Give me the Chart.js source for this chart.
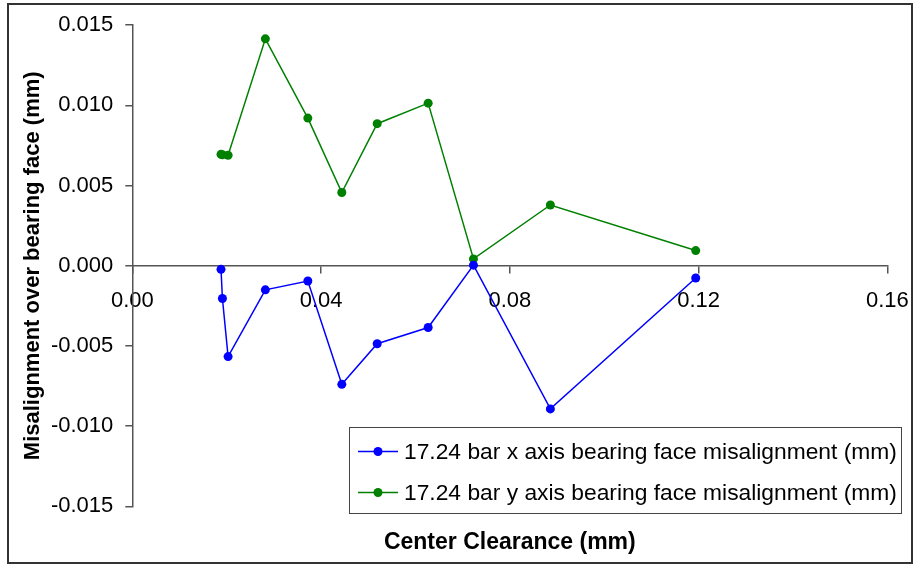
<!DOCTYPE html>
<html>
<head>
<meta charset="utf-8">
<script src="https://cdn.jsdelivr.net/npm/chart.js@4/dist/chart.umd.min.js"></script>
<style>
  html, body { margin: 0; padding: 0; background: #fff; }
  #wrap { width: 915px; height: 565px; position: relative; }
</style>
</head>
<body>
<div id="wrap"><canvas id="c" width="915" height="565"></canvas></div>
<script>
// ---- Data ----
const clearance = [0.0188, 0.0191, 0.0203, 0.0282, 0.0372, 0.0444, 0.0519, 0.0627, 0.0723, 0.0886, 0.1194];
const xMisalign = [-0.00022, -0.00204, -0.00566, -0.00150, -0.00095, -0.00739, -0.00486, -0.00385, 0.00004, -0.00892, -0.00076];
const yMisalign = [0.00695, 0.00692, 0.00689, 0.01415, 0.00921, 0.00457, 0.00886, 0.01014, 0.00043, 0.00379, 0.00095];
const seriesLabels = [
  '17.24 bar x axis bearing face misalignment (mm)',
  '17.24 bar y axis bearing face misalignment (mm)'
];
const xTitle = 'Center Clearance (mm)';
const yTitle = 'Misalignment over bearing face (mm)';
const xTicks = [0, 0.04, 0.08, 0.12, 0.16];
const yTicks = [-0.015, -0.010, -0.005, 0.000, 0.005, 0.010, 0.015];

const toPts = (xs, ys) => xs.map((x, i) => ({ x: x, y: ys[i] }));

const FONT = "'Liberation Sans', Arial, sans-serif";

const frame = {
  id: 'frame',
  afterDraw(chart) {
    const ctx = chart.ctx;
    ctx.save();
    ctx.strokeStyle = '#333';
    ctx.lineWidth = 2;
    ctx.strokeRect(8, 4, 904, 559);
    ctx.restore();
  }
};

const boxLegend = {
  id: 'boxLegend',
  afterDraw(chart) {
    const ctx = chart.ctx;
    const L = 349.5, T = 427.5, W = 552, H = 86;
    ctx.save();
    ctx.fillStyle = '#fff';
    ctx.fillRect(L, T, W, H);
    ctx.strokeStyle = '#444';
    ctx.lineWidth = 1;
    ctx.strokeRect(L, T, W, H);
    const rows = [451.5, 492.5];
    chart.data.datasets.forEach((ds, i) => {
      const y = rows[i];
      ctx.strokeStyle = ds.borderColor;
      ctx.lineWidth = 1.5;
      ctx.beginPath();
      ctx.moveTo(358, y);
      ctx.lineTo(398, y);
      ctx.stroke();
      ctx.fillStyle = ds.backgroundColor;
      ctx.beginPath();
      ctx.arc(378, y, 4.5, 0, Math.PI * 2);
      ctx.fill();
      ctx.fillStyle = '#000';
      ctx.font = '22.8px ' + FONT;
      ctx.textBaseline = 'middle';
      ctx.textAlign = 'left';
      ctx.fillText(ds.label, 404, y + 1);
    });
    ctx.restore();
  }
};

new Chart(document.getElementById('c'), {
  type: 'line',
  data: {
    datasets: [
      {
        label: seriesLabels[0],
        data: toPts(clearance, xMisalign),
        borderColor: '#0000FF',
        backgroundColor: '#0000FF',
        borderWidth: 1.5,
        pointRadius: 4.5,
        pointBorderWidth: 0,
        tension: 0
      },
      {
        label: seriesLabels[1],
        data: toPts(clearance, yMisalign),
        borderColor: '#008000',
        backgroundColor: '#008000',
        borderWidth: 1.5,
        pointRadius: 4.5,
        pointBorderWidth: 0,
        tension: 0
      }
    ]
  },
  options: {
    responsive: false,
    animation: false,
    devicePixelRatio: 1,
    layout: { padding: { left: 12, top: 20, right: 27.7, bottom: 6 } },
    plugins: {
      legend: { display: false },
      tooltip: { enabled: false },
      title: {
        display: true,
        position: 'bottom',
        fullSize: false,
        text: xTitle,
        color: '#000',
        font: { family: FONT, size: 23, weight: 'bold' },
        padding: { top: 22, bottom: 3 }
      }
    },
    scales: {
      x: {
        type: 'linear',
        position: { y: 0 },
        min: 0,
        max: 0.16,
        afterBuildTicks: s => { s.ticks = xTicks.map(v => ({ value: v })); },
        afterFit: s => { s.paddingLeft = 0; s.paddingRight = 0; },
        ticks: {
          color: '#000',
          font: { family: FONT, size: 22 },
          padding: 15,
          maxRotation: 0,
          callback: v => Number(v).toFixed(2)
        },
        grid: { drawOnChartArea: false, drawTicks: true, tickLength: 7, color: '#555', lineWidth: 1.5 },
        border: { display: true, color: '#555', width: 1.5 }
      },
      y: {
        type: 'linear',
        min: -0.015,
        max: 0.015,
        afterBuildTicks: s => { s.ticks = yTicks.map(v => ({ value: v })); },
        afterFit: s => { s.width = 120.3; },
        ticks: {
          color: '#000',
          font: { family: FONT, size: 22 },
          padding: 12,
          callback: v => Number(v).toFixed(3)
        },
        title: {
          display: true,
          text: yTitle,
          color: '#000',
          font: { family: FONT, size: 22, weight: 'bold' },
          padding: { top: 8, bottom: 0 }
        },
        grid: { drawOnChartArea: false, drawTicks: true, tickLength: 7, color: '#555', lineWidth: 1.5 },
        border: { display: true, color: '#555', width: 1.5 }
      }
    }
  },
  plugins: [frame, boxLegend]
});
</script>
</body>
</html>
